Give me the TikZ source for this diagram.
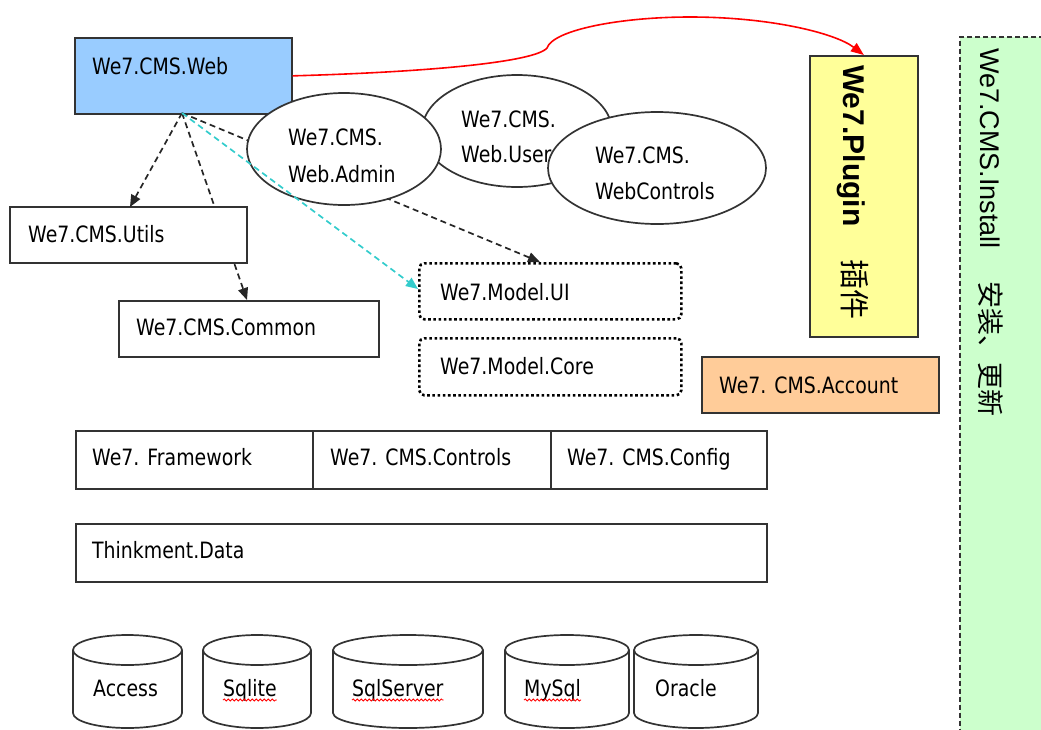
\documentclass[tikz,border=0pt]{standalone}
\usepackage{fontspec}
\setmainfont{DejaVu Sans}[FakeStretch=0.84]
\newfontfamily\lib{Liberation Sans}
\newfontfamily\cjk{Noto Sans CJK SC}
\usetikzlibrary{shapes.geometric,arrows.meta,decorations.pathmorphing,calc}
\definecolor{webblue}{HTML}{99CCFF}
\definecolor{plugyellow}{HTML}{FFFF99}
\definecolor{acctorange}{HTML}{FFCC99}
\definecolor{installgreen}{HTML}{CCFFCC}
\definecolor{cyanline}{HTML}{33CCCC}
\definecolor{edge}{HTML}{333333}
\begin{document}
\begin{tikzpicture}[x=1pt,y=-1pt,
  box/.style={draw=edge,line width=1.7pt,anchor=north west,inner sep=0,fill=white},
  dotbox/.style={draw=black,line width=2.6pt,dash pattern=on 2.6pt off 2.6pt,rounded corners=5pt,anchor=north west,inner sep=0,fill=white},
  oval/.style={ellipse,draw=edge,line width=1.7pt,fill=white,inner sep=0},
  lbl/.style={anchor=base west,inner sep=0,font=\fontsize{22.5}{27}\selectfont},
  dep/.style={draw=black!85,line width=1.7pt,dash pattern=on 6pt off 4pt,-{Triangle[length=12pt,width=10pt]}},
  depcyan/.style={draw=cyanline,line width=1.7pt,dash pattern=on 6pt off 4pt,-{Triangle[length=12pt,width=10pt]}},
  cylline/.style={draw=edge,line width=1.7pt,fill=white},
  squig/.style={draw=red,line width=0.8pt,decorate,decoration={snake,amplitude=1.1pt,segment length=4pt}}
]
\useasboundingbox (0,0) rectangle (1041,729);

% install (background column)
\node[fill=installgreen,anchor=north west,minimum width=100,minimum height=720,inner sep=0] (install) at (960,37) {};
\draw[draw=edge,line width=1.6pt,dash pattern=on 5pt off 3pt] (install.north east) -- (install.north west) -- (install.south west);
\node[rotate=-90,anchor=base west,inner sep=0] (tinstall) at (980,48)
  {{\lib\fontsize{27}{32}\selectfont We7.CMS.Install}\hspace{33pt}{\cjk\fontsize{27}{32}\selectfont 安装、更新}};

% plugin
\node[box,fill=plugyellow,minimum width=108,minimum height=281] (plugin) at (809,55) {};
\node[rotate=-90,anchor=base west,inner sep=0] (tplugin) at (843,65)
  {{\lib\bfseries\fontsize{30}{36}\selectfont We7.Plugin}\hspace{33pt}{\cjk\fontsize{30}{36}\selectfont 插件}};

% account
\node[box,fill=acctorange,minimum width=237,minimum height=56] (account) at (701,356) {};
\node[lbl] (taccount) at (719,393) {We7. CMS.Account};

% web
\node[box,fill=webblue,minimum width=217,minimum height=76] (web) at (74,37) {};
\node[lbl] (tweb) at (92,74) {We7.CMS.Web};
\coordinate (webbot) at (182,113);

% red connector to plugin
\draw[red,line width=1.6pt,-{Triangle[length=13pt,width=10pt]}]
  (web.east) .. controls (430,72) and (535,62) .. (547,48)
  .. controls (553,30) and (620,17) .. (690,17)
  .. controls (770,17) and (835,33) .. (plugin.north);

% targets
\coordinate (uiTop) at (540,262);
\coordinate (commonTop) at (247,300);
\coordinate (utilsTop) at (130,207);
\coordinate (uiLeft) at (418,289);

% dashed dependencies drawn behind ellipses / boxes
\draw[dep] (webbot) -- (uiTop);
\draw[dep] (webbot) -- (commonTop);

% ellipses
\node[oval,minimum width=190,minimum height=112] (user) at (517,131) {};
\node[oval,minimum width=194,minimum height=112] (admin) at (344,149) {};
\node[lbl] (tadmin1) at (288,145) {We7.CMS.};
\node[lbl] (tadmin2) at (288,182) {Web.Admin};
\node[lbl] (tuser1) at (461,127) {We7.CMS.};
\node[lbl] (tuser2) at (461,162) {Web.User};
\node[oval,minimum width=218,minimum height=112] (wctrl) at (657,168) {};
\node[lbl] (twctrl1) at (595,163) {We7.CMS.};
\node[lbl] (twctrl2) at (595,199) {WebControls};

% utils, common
\node[box,minimum width=237,minimum height=56] (utils) at (9,206) {};
\node[lbl] (tutils) at (28,242) {We7.CMS.Utils};
\node[box,minimum width=260,minimum height=56] (common) at (118,300) {};
\node[lbl] (tcommon) at (136,335) {We7.CMS.Common};
\draw[dep] (webbot) -- (utilsTop);

% model boxes
\node[dotbox,minimum width=262,minimum height=56] (modelui) at (418,262) {};
\node[lbl] (tmodelui) at (440,300) {We7.Model.UI};
\node[dotbox,minimum width=262,minimum height=57] (modelcore) at (418,337) {};
\node[lbl] (tmodelcore) at (440,374) {We7.Model.Core};

\draw[depcyan] (webbot) -- (uiLeft);

% framework row
\node[box,minimum width=237,minimum height=58] (framework) at (75,430) {};
\node[box,minimum width=238,minimum height=58] (controls) at (312,430) {};
\node[box,minimum width=216,minimum height=58] (config) at (550,430) {};
\node[lbl] (tframework) at (92,465) {We7. Framework};
\node[lbl] (tcontrols) at (330,465) {We7. CMS.Controls};
\node[lbl] (tconfig) at (567,465) {We7. CMS.Config};

% data
\node[box,minimum width=691,minimum height=58] (data) at (75,523) {};
\node[lbl] (tdata) at (92,558) {Thinkment.Data};

% databases
\foreach \l/\r/\n/\t/\tx in {73/182/access/Access/93, 203/311/sqlite/Sqlite/223, 333/483/sqlserver/SqlServer/352, 505/629/mysql/MySql/524, 634/758/oracle/Oracle/655}{
  \pgfmathsetmacro\rx{(\r-\l)/2}
  \pgfmathsetmacro\cx{(\r+\l)/2}
  \draw[cylline] (\l,650) -- (\l,713) arc[start angle=180,end angle=360,x radius=\rx pt,y radius=15pt] -- (\r,650);
  \draw[cylline] (\cx,650) ellipse[x radius=\rx pt,y radius=15pt];
  \node[lbl] (\n) at (\tx,696) {\t};
}
\draw[squig] ([yshift=-4pt]sqlite.base west) -- ([yshift=-4pt]sqlite.base east);
\draw[squig] ([yshift=-4pt]sqlserver.base west) -- ([yshift=-4pt]sqlserver.base east);
\draw[squig] ([yshift=-4pt]mysql.base west) -- ([yshift=-4pt]mysql.base east);
\end{tikzpicture}
\end{document}
